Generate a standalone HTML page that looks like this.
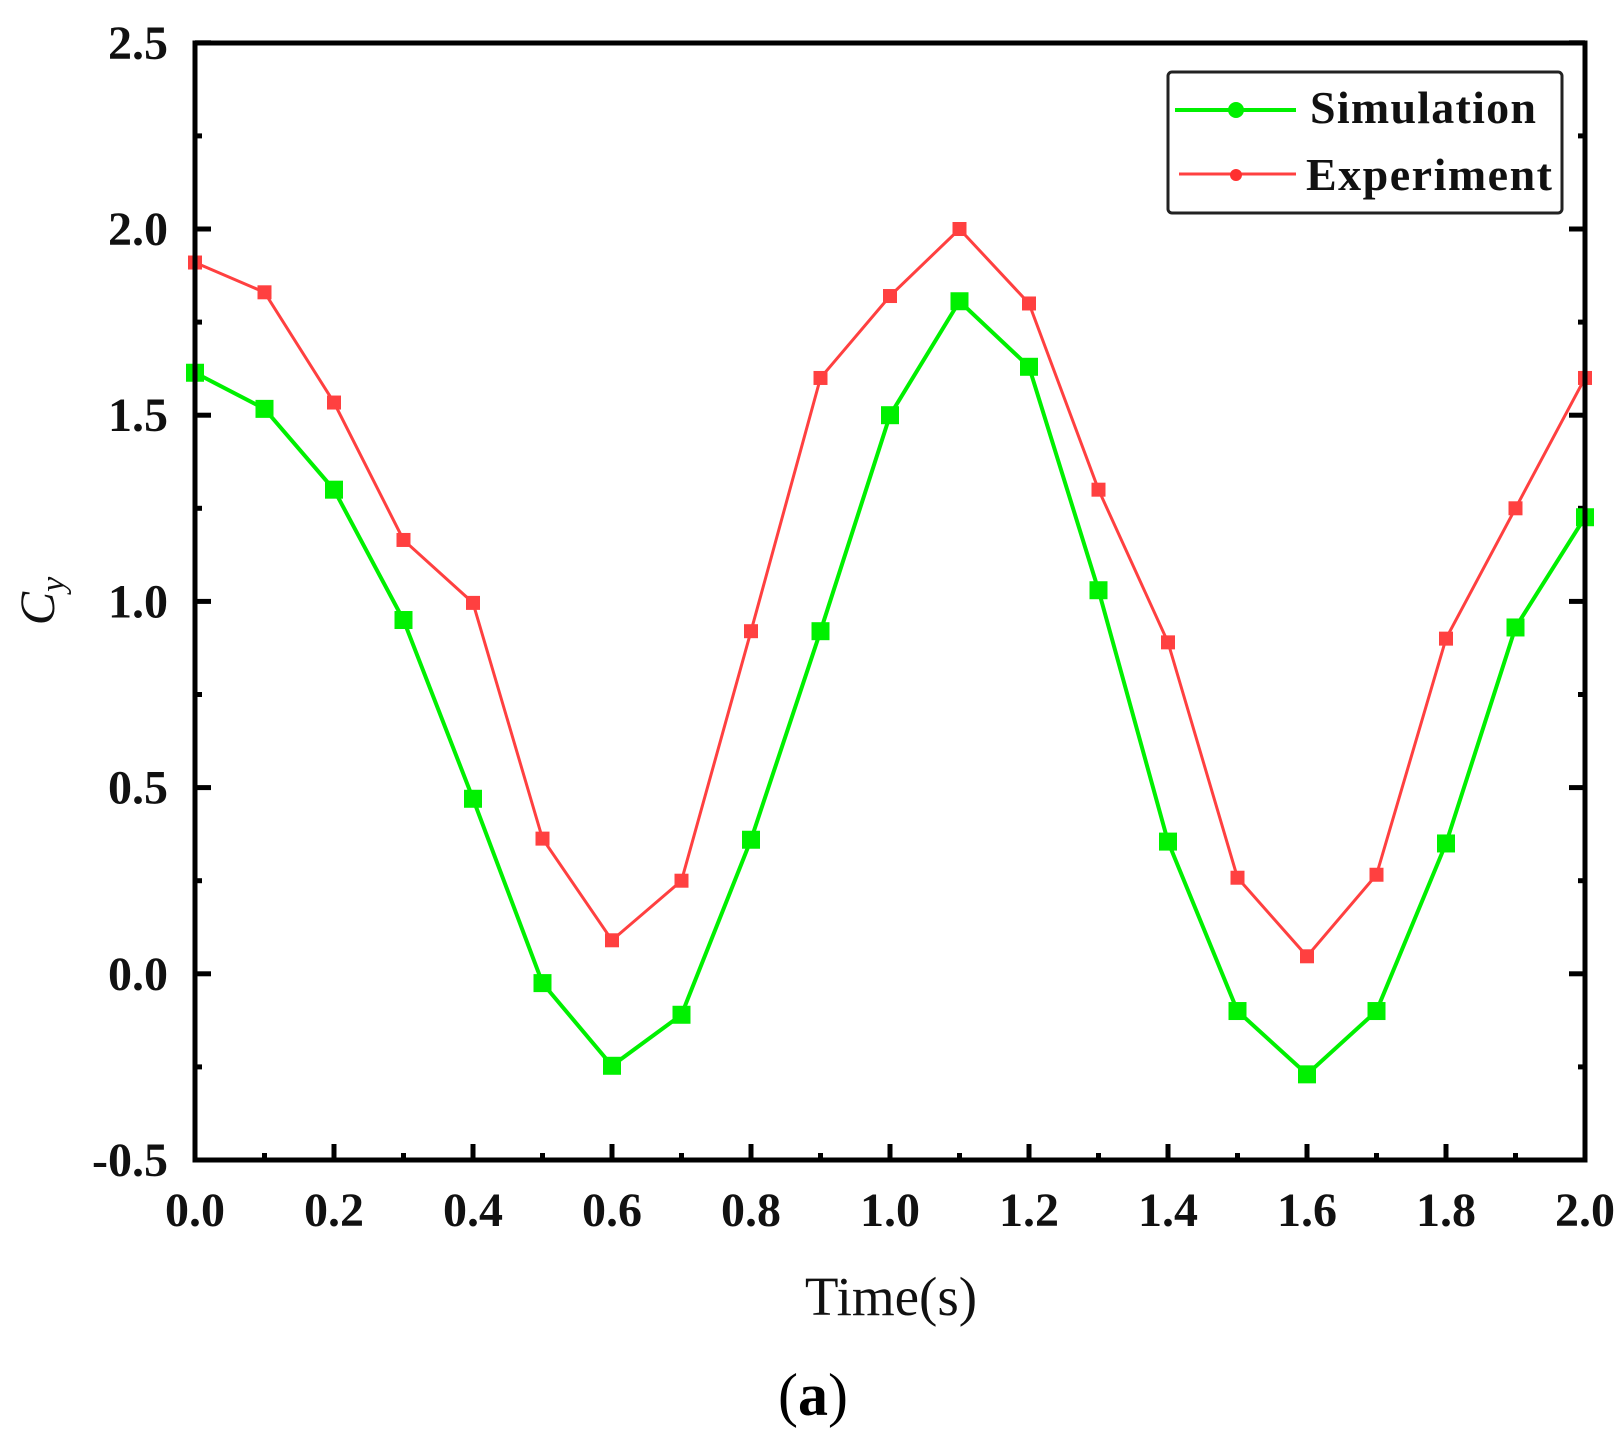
<!DOCTYPE html><html><head><style>body{margin:0;background:#fff}svg{display:block}</style></head><body>
<svg id="s" width="1624" height="1443" xmlns="http://www.w3.org/2000/svg" font-family="Liberation Serif, serif">
<rect width="1624" height="1443" fill="#fff"/>
<g id="g"></g>
<rect x="195" y="43" width="1390" height="1117" fill="none" stroke="#000" stroke-width="5"/>
<rect x="1168" y="72" width="394" height="141" rx="4" fill="#fff" stroke="#222" stroke-width="3"/>
<line x1="1175" y1="110" x2="1296" y2="110" stroke="#00f000" stroke-width="4"/>
<circle cx="1236" cy="110" r="8" fill="#00f000"/>
<line x1="1179" y1="174" x2="1296" y2="174" stroke="#ff4040" stroke-width="3"/>
<circle cx="1236" cy="175" r="6" fill="#ff3030"/>
<text x="1310" y="123" font-size="46" font-weight="bold" fill="#111" textLength="226">Simulation</text>
<text x="1306" y="190" font-size="46" font-weight="bold" fill="#111" textLength="246">Experiment</text>
<text x="891" y="1315" font-size="55" text-anchor="middle" fill="#111">Time(s)</text>
<text x="813" y="1415" font-size="60" text-anchor="middle" fill="#000">(<tspan font-weight="bold">a</tspan>)</text>
<text transform="translate(54,601) rotate(-90)" font-size="50" font-style="italic" text-anchor="middle" fill="#111">C<tspan font-size="34" dy="10">y</tspan></text>
</svg>
<script>
const g=document.getElementById('g');let h='';
const X=t=>195+t*695,Y=v=>973.8-v*372.4;
for(let i=0;i<=20;i++){const x=X(i/10),L=i%2?7:16;
h+=`<line x1="${x}" y1="1160" x2="${x}" y2="${1160-L}" stroke="#000" stroke-width="5"/>`;
if(i%2==0)h+=`<text x="${x}" y="1226" font-size="48" font-weight="bold" text-anchor="middle" fill="#111">${(i/10).toFixed(1)}</text>`;}
for(let i=0;i<=12;i++){const v=-0.5+i*0.25,y=Y(v),L=i%2?7:16;
h+=`<line x1="195" y1="${y}" x2="${195+L}" y2="${y}" stroke="#000" stroke-width="5"/><line x1="1585" y1="${y}" x2="${1585-L}" y2="${y}" stroke="#000" stroke-width="5"/>`;
if(i%2==0)h+=`<text x="168" y="${y+16}" font-size="48" font-weight="bold" text-anchor="end" fill="#111">${v.toFixed(1)}</text>`;}
const S=[1.614,1.517,1.30,0.95,0.47,-0.025,-0.247,-0.11,0.36,0.92,1.50,1.806,1.63,1.03,0.355,-0.10,-0.27,-0.10,0.35,0.93,1.226];
const E=[1.91,1.83,1.534,1.165,0.996,0.363,0.09,0.25,0.92,1.60,1.82,2.0,1.80,1.30,0.89,0.258,0.047,0.266,0.90,1.25,1.60];
function ser(d,c,w,m){h+=`<polyline fill="none" stroke="${c}" stroke-width="${w}" points="${d.map((v,i)=>X(i/10)+','+Y(v)).join(' ')}"/>`;
d.forEach((v,i)=>h+=`<rect x="${X(i/10)-m/2}" y="${Y(v)-m/2}" width="${m}" height="${m}" fill="${c}"/>`);}
ser(E,'#ff4040',3,14);ser(S,'#00f000',4,18);
g.innerHTML=h;
</script></body></html>
